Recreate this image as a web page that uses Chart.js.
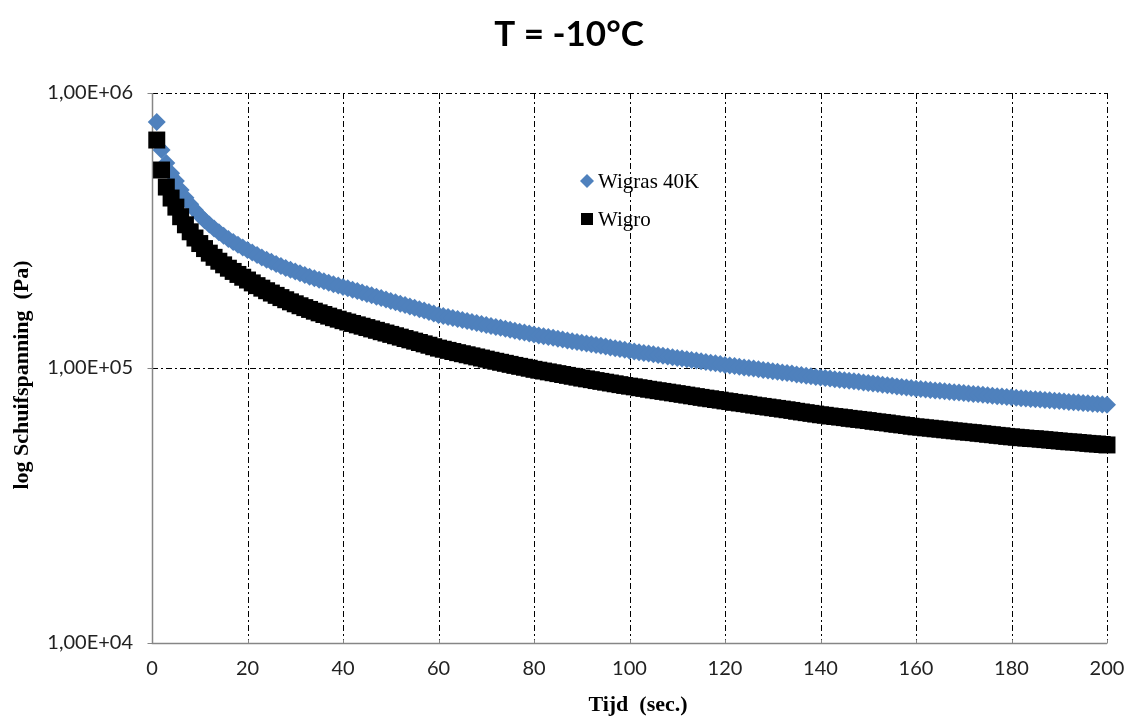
<!DOCTYPE html>
<html>
<head>
<meta charset="utf-8">
<script src="https://cdn.jsdelivr.net/npm/chart.js@4.4.1/dist/chart.umd.min.js"></script>
<style>
  html, body { margin: 0; padding: 0; background: #fff; }
  #wrap { width: 1127px; height: 716px; }
</style>
</head>
<body>
<div id="wrap"><canvas id="c" width="1127" height="716"></canvas></div>
<script>
// Shear stress relaxation at T = -10 C, two binders

const chartTitle = 'T = -10°C';
const xTitle = 'Tijd  (sec.)';
const yTitle = 'log Schuifspanning  (Pa)';
const seriesNames = ['Wigras 40K', 'Wigro'];

const xTicks = [0, 20, 40, 60, 80, 100, 120, 140, 160, 180, 200];
const yTicks = [10000, 100000, 1000000];
const yTickLabels = ['1,00E+04', '1,00E+05', '1,00E+06'];

// tijd (sec.)
const timeSec = [
  1, 2, 3, 4, 5, 6, 7, 8, 9, 10, 11, 12, 13, 14, 15, 16, 17, 18, 19, 20,
  21, 22, 23, 24, 25, 26, 27, 28, 29, 30, 31, 32, 33, 34, 35, 36, 37, 38, 39, 40,
  41, 42, 43, 44, 45, 46, 47, 48, 49, 50, 51, 52, 53, 54, 55, 56, 57, 58, 59, 60,
  61, 62, 63, 64, 65, 66, 67, 68, 69, 70, 71, 72, 73, 74, 75, 76, 77, 78, 79, 80,
  81, 82, 83, 84, 85, 86, 87, 88, 89, 90, 91, 92, 93, 94, 95, 96, 97, 98, 99, 100,
  101, 102, 103, 104, 105, 106, 107, 108, 109, 110, 111, 112, 113, 114, 115, 116, 117, 118, 119, 120,
  121, 122, 123, 124, 125, 126, 127, 128, 129, 130, 131, 132, 133, 134, 135, 136, 137, 138, 139, 140,
  141, 142, 143, 144, 145, 146, 147, 148, 149, 150, 151, 152, 153, 154, 155, 156, 157, 158, 159, 160,
  161, 162, 163, 164, 165, 166, 167, 168, 169, 170, 171, 172, 173, 174, 175, 176, 177, 178, 179, 180,
  181, 182, 183, 184, 185, 186, 187, 188, 189, 190, 191, 192, 193, 194, 195, 196, 197, 198, 199, 200
];

// schuifspanning (Pa) - Wigras 40K
const wigras40K = [
  784000, 621000, 556000, 511000, 479000, 443600, 416000, 393600, 374600, 358500,
  344500, 332300, 321400, 311600, 302700, 294700, 287300, 280500, 274300, 268500,
  262800, 257400, 252300, 247600, 243200, 238900, 235000, 231200, 227600, 224200,
  221000, 217900, 214900, 212100, 209400, 206800, 204200, 201800, 199500, 197200,
  194900, 192600, 190400, 188200, 186000, 183800, 181700, 179600, 177500, 175400,
  173400, 171400, 169400, 167400, 165500, 163600, 161700, 159800, 157900, 156000,
  154700, 153400, 152100, 150800, 149500, 148200, 147000, 145800, 144600, 143400,
  142200, 141100, 140000, 138900, 137800, 136700, 135600, 134500, 133400, 132300,
  131400, 130500, 129600, 128700, 127800, 126900, 126000, 125200, 124400, 123600,
  122800, 122000, 121200, 120400, 119600, 118800, 118000, 117200, 116400, 115600,
  114900, 114200, 113500, 112800, 112100, 111400, 110700, 110000, 109400, 108800,
  108200, 107600, 107000, 106400, 105800, 105200, 104600, 104000, 103300, 102600,
  102100, 101600, 101000, 100500, 100000, 99500, 99000, 98400, 97900, 97400,
  96900, 96400, 95900, 95400, 94800, 94300, 93800, 93300, 92800, 92300,
  91900, 91500, 91100, 90700, 90300, 89900, 89500, 89100, 88600, 88200,
  87800, 87400, 87000, 86600, 86100, 85700, 85300, 84900, 84500, 84100,
  83800, 83500, 83200, 82900, 82600, 82300, 82000, 81700, 81400, 81100,
  80800, 80500, 80200, 79900, 79600, 79300, 79000, 78700, 78500, 78200,
  78000, 77700, 77500, 77200, 77000, 76800, 76500, 76300, 76000, 75800,
  75600, 75300, 75100, 74900, 74600, 74400, 74200, 73900, 73700, 73500
];

// schuifspanning (Pa) - Wigro
const wigro = [
  674500, 524800, 455000, 415000, 384600, 354900, 331700, 312800, 296900, 283500,
  271800, 261600, 252600, 244500, 237200, 230600, 224500, 218900, 213800, 208900,
  203900, 199300, 195100, 191000, 187300, 183700, 180300, 177100, 174000, 171200,
  168400, 165800, 163300, 160900, 158700, 156500, 154400, 152400, 150500, 148600,
  146900, 145200, 143500, 141900, 140300, 138700, 137100, 135500, 134000, 132500,
  131000, 129500, 128000, 126600, 125200, 123800, 122400, 121000, 119500, 118100,
  117000, 115900, 114800, 113700, 112700, 111700, 110700, 109700, 108700, 107700,
  106700, 105800, 104900, 104000, 103100, 102200, 101400, 100600, 99800, 98900,
  98200, 97500, 96800, 96100, 95400, 94700, 94000, 93300, 92600, 91900,
  91300, 90700, 90000, 89400, 88800, 88200, 87600, 87000, 86400, 85900,
  85400, 84800, 84300, 83700, 83200, 82700, 82200, 81700, 81200, 80700,
  80200, 79700, 79200, 78700, 78200, 77700, 77300, 76800, 76400, 75900,
  75500, 75000, 74600, 74200, 73800, 73300, 72900, 72500, 72100, 71700,
  71300, 70900, 70500, 70100, 69600, 69200, 68800, 68400, 68000, 67600,
  67300, 66900, 66600, 66300, 66000, 65600, 65300, 65000, 64700, 64400,
  64000, 63700, 63400, 63100, 62700, 62400, 62100, 61800, 61400, 61100,
  60900, 60600, 60400, 60100, 59900, 59600, 59400, 59100, 58900, 58600,
  58400, 58200, 57900, 57700, 57400, 57200, 56900, 56700, 56400, 56200,
  56000, 55800, 55600, 55400, 55300, 55100, 54900, 54700, 54500, 54300,
  54100, 53900, 53800, 53600, 53400, 53200, 53000, 52900, 52700, 52500
];

const BLUE = '#4F81BD';
const BLACK = '#000000';
const AXIS_GREY = '#868686';

// grid (dash-dot), axis lines and small tick marks
const gridPlugin = {
  id: 'excelGrid',
  beforeDatasetsDraw(chart) {
    const { ctx, chartArea: a, scales: { x, y } } = chart;
    ctx.save();
    ctx.lineWidth = 1;
    ctx.strokeStyle = '#000';
    ctx.setLineDash([6, 3, 2, 3]);
    xTicks.forEach(v => {
      if (v === 0) return;
      const px = Math.round(x.getPixelForValue(v)) + 0.5;
      ctx.beginPath(); ctx.moveTo(px, a.top); ctx.lineTo(px, a.bottom); ctx.stroke();
    });
    yTicks.forEach(v => {
      if (v === yTicks[0]) return;
      const py = Math.round(y.getPixelForValue(v)) + 0.5;
      ctx.beginPath(); ctx.moveTo(a.left, py); ctx.lineTo(a.right, py); ctx.stroke();
    });
    ctx.setLineDash([]);
    ctx.strokeStyle = AXIS_GREY;
    ctx.lineWidth = 1.5;
    const l = Math.round(a.left) + 0.5, b = Math.round(a.bottom) + 0.5;
    ctx.beginPath(); ctx.moveTo(l, a.top); ctx.lineTo(l, b); ctx.lineTo(a.right, b); ctx.stroke();
    ctx.lineWidth = 1;
    yTicks.forEach(v => {
      const py = Math.round(y.getPixelForValue(v)) + 0.5;
      ctx.beginPath(); ctx.moveTo(l - 5, py); ctx.lineTo(l, py); ctx.stroke();
    });
    xTicks.forEach(v => {
      const px = Math.round(x.getPixelForValue(v)) + 0.5;
      ctx.beginPath(); ctx.moveTo(px, b); ctx.lineTo(px, b - 4); ctx.stroke();
    });
    ctx.restore();
  }
};

// title, axis titles and the in-plot legend
const textPlugin = {
  id: 'excelText',
  afterDraw(chart) {
    const { ctx } = chart;
    ctx.save();
    ctx.fillStyle = '#000';
    ctx.textAlign = 'center';
    ctx.textBaseline = 'middle';
    ctx.font = 'bold 35px Lato';
    ctx.fillText(chartTitle, 569, 35);

    ctx.font = 'bold 22px "Liberation Serif"';
    ctx.fillText(xTitle, 638, 705);
    ctx.save();
    ctx.translate(22, 375);
    ctx.rotate(-Math.PI / 2);
    ctx.fillText(yTitle, 0, 0);
    ctx.restore();

    // legend
    ctx.textAlign = 'left';
    ctx.font = '21px "Liberation Serif"';
    const lx = 587;
    const rows = [181, 219];
    ctx.fillStyle = BLUE;
    ctx.beginPath();
    ctx.moveTo(lx - 7, rows[0]); ctx.lineTo(lx, rows[0] - 7);
    ctx.lineTo(lx + 7, rows[0]); ctx.lineTo(lx, rows[0] + 7);
    ctx.closePath(); ctx.fill();
    ctx.fillStyle = BLACK;
    ctx.fillRect(lx - 6, rows[1] - 6, 12, 12);
    ctx.fillStyle = '#000';
    ctx.fillText(seriesNames[0], 598, rows[0] + 1);
    ctx.fillText(seriesNames[1], 598, rows[1] + 1);
    ctx.restore();
  }
};

new Chart(document.getElementById('c'), {
  type: 'scatter',
  data: {
    datasets: [
      {
        label: seriesNames[0],
        data: timeSec.map((t, i) => ({ x: t, y: wigras40K[i] })),
        pointStyle: 'rectRot',
        pointRadius: 9,
        pointBorderWidth: 0,
        backgroundColor: BLUE,
        borderColor: BLUE,
        showLine: false,
        clip: false,
        order: 1
      },
      {
        label: seriesNames[1],
        data: timeSec.map((t, i) => ({ x: t, y: wigro[i] })),
        pointStyle: 'rect',
        pointRadius: 12,
        pointBorderWidth: 0,
        backgroundColor: BLACK,
        borderColor: BLACK,
        showLine: false,
        clip: false,
        order: 0
      }
    ]
  },
  options: {
    responsive: false,
    animation: false,
    devicePixelRatio: 1,
    layout: { padding: { top: 93, right: 20, left: 0, bottom: 0 } },
    plugins: {
      legend: { display: false },
      title: { display: false },
      tooltip: { enabled: false }
    },
    scales: {
      x: {
        type: 'linear',
        min: 0,
        max: 200,
        afterBuildTicks: s => { s.ticks = xTicks.map(v => ({ value: v })); },
        afterFit: s => { s.height = 73; },
        // small padding so the last label does not shrink the plot; lineHeight pushes labels down
        ticks: { font: { family: 'Lato', size: 20, lineHeight: 2.4 }, color: '#222', padding: 2, maxRotation: 0 },
        grid: { display: false, drawTicks: false },
        border: { display: false }
      },
      y: {
        type: 'logarithmic',
        min: 10000,
        max: 1000000,
        afterBuildTicks: s => { s.ticks = yTicks.map(v => ({ value: v })); },
        afterFit: s => { s.width = 152; },
        ticks: {
          font: { family: 'Lato', size: 20 },
          color: '#222',
          padding: 19,
          callback: v => yTickLabels[yTicks.indexOf(v)]
        },
        grid: { display: false, drawTicks: false },
        border: { display: false }
      }
    }
  },
  plugins: [gridPlugin, textPlugin]
});
</script>
</body>
</html>
